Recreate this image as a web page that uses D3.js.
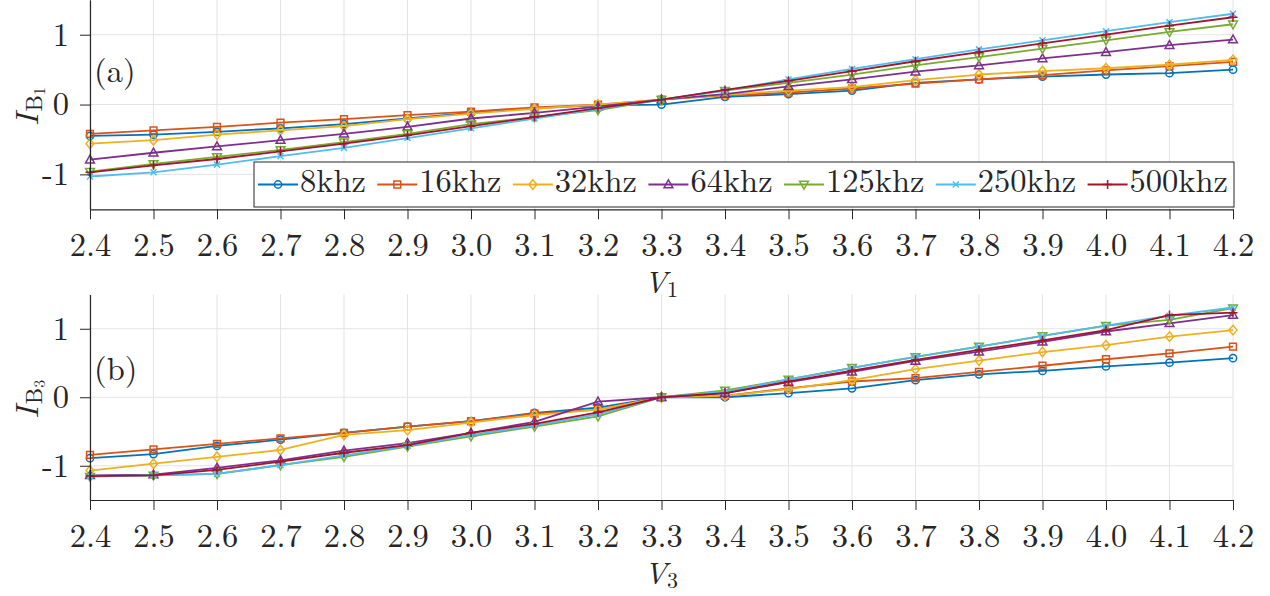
<!DOCTYPE html>
<html>
<head>
<meta charset="utf-8">
<script src="https://cdn.jsdelivr.net/npm/d3@7"></script>
<style>
  body { margin: 0; background: #fff; }
  svg { display: block; }
</style>
</head>
<body>
<div id="chart"></div>
<script>
// x values (V) shared by both panels
const vValues = [2.4, 2.5, 2.6, 2.7, 2.8, 2.9, 3.0, 3.1, 3.2, 3.3, 3.4, 3.5, 3.6, 3.7, 3.8, 3.9, 4.0, 4.1, 4.2];
const yTickValues = [-1, 0, 1];
const seriesNames = ["8khz", "16khz", "32khz", "64khz", "125khz", "250khz", "500khz"];
const seriesColors = ["#0072BD", "#D95319", "#EDB120", "#7E2F8E", "#77AC30", "#4DBEEE", "#A2142F"];
const seriesMarkers = ["o", "s", "d", "^", "v", "x", "+"];

// panel (a): I_B1 vs V1
const a8k   = [-0.45, -0.43, -0.39, -0.34, -0.28, -0.20, -0.12, -0.05, -0.01, 0.00, 0.11, 0.15, 0.20, 0.31, 0.36, 0.40, 0.43, 0.45, 0.50];
const a16k  = [-0.42, -0.37, -0.32, -0.26, -0.21, -0.15, -0.10, -0.04, 0.00, 0.07, 0.13, 0.17, 0.23, 0.30, 0.36, 0.42, 0.49, 0.55, 0.61];
const a32k  = [-0.56, -0.51, -0.43, -0.37, -0.31, -0.21, -0.13, -0.06, 0.00, 0.07, 0.14, 0.20, 0.25, 0.35, 0.43, 0.48, 0.52, 0.57, 0.64];
const a64k  = [-0.79, -0.69, -0.60, -0.51, -0.42, -0.32, -0.20, -0.12, -0.03, 0.07, 0.15, 0.26, 0.36, 0.47, 0.56, 0.66, 0.75, 0.85, 0.93];
const a125k = [-0.96, -0.85, -0.75, -0.65, -0.54, -0.42, -0.28, -0.18, -0.08, 0.07, 0.20, 0.31, 0.43, 0.56, 0.68, 0.80, 0.92, 1.04, 1.15];
const a250k = [-1.03, -0.97, -0.86, -0.74, -0.62, -0.48, -0.34, -0.20, -0.06, 0.07, 0.20, 0.36, 0.51, 0.65, 0.79, 0.92, 1.05, 1.18, 1.30];
const a500k = [-0.97, -0.87, -0.78, -0.67, -0.56, -0.44, -0.31, -0.18, -0.05, 0.07, 0.21, 0.34, 0.48, 0.62, 0.75, 0.875, 1.00, 1.13, 1.25];

// panel (b): I_B3 vs V3
const b8k   = [-0.89, -0.83, -0.71, -0.62, -0.52, -0.43, -0.35, -0.23, -0.15, 0.00, 0.00, 0.06, 0.13, 0.25, 0.335, 0.385, 0.45, 0.505, 0.57];
const b16k  = [-0.84, -0.76, -0.68, -0.60, -0.52, -0.43, -0.35, -0.24, -0.18, 0.00, 0.02, 0.13, 0.23, 0.28, 0.37, 0.46, 0.555, 0.64, 0.74];
const b32k  = [-1.07, -0.97, -0.87, -0.77, -0.55, -0.48, -0.37, -0.26, -0.18, 0.00, 0.02, 0.12, 0.25, 0.41, 0.535, 0.66, 0.76, 0.885, 0.98];
const b64k  = [-1.14, -1.13, -1.03, -0.92, -0.78, -0.67, -0.52, -0.36, -0.065, 0.00, 0.06, 0.22, 0.37, 0.53, 0.665, 0.81, 0.96, 1.08, 1.20];
const b125k = [-1.16, -1.14, -1.12, -0.99, -0.87, -0.72, -0.57, -0.43, -0.28, 0.00, 0.10, 0.26, 0.43, 0.59, 0.74, 0.895, 1.045, 1.13, 1.30];
const b250k = [-1.15, -1.14, -1.12, -0.99, -0.85, -0.71, -0.55, -0.41, -0.25, 0.00, 0.08, 0.26, 0.43, 0.59, 0.74, 0.895, 1.045, 1.19, 1.31];
const b500k = [-1.15, -1.14, -1.06, -0.94, -0.81, -0.70, -0.52, -0.39, -0.22, 0.00, 0.06, 0.23, 0.39, 0.545, 0.69, 0.83, 0.98, 1.20, 1.235];

const width = 1270, height = 596;
const fontSize = 32.5;
const fontName = "'Latin Modern Roman'";
const axisColor = "#262626";
const gridColor = "#e3e3e3";

const svg = d3.select("#chart").append("svg")
    .attr("width", width)
    .attr("height", height)
    .style("font-family", fontName);

const xScale = d3.scaleLinear().domain([2.4, 4.2]).range([90, 1233]);

// marker path centred on 0,0
function markerPath(type) {
    switch (type) {
        case "o": return d3.symbol(d3.symbolCircle, 42)();
        case "s": return "M-3.4,-3.4H3.4V3.4H-3.4Z";
        case "d": return "M0,-4.8L4,0L0,4.8L-4,0Z";
        case "^": return "M0,-4.6L4.4,3.2H-4.4Z";
        case "v": return "M0,4.6L4.4,-3.2H-4.4Z";
        case "x": return "M-3,-3L3,3M-3,3L3,-3";
        case "+": return "M-4.5,0H4.5M0,-4.5V4.5";
    }
}

function addText(sel) {
    return sel.append("text").style("font-family", fontName).attr("fill", axisColor);
}

function drawPanel(opts) {
    const yScale = d3.scaleLinear().domain([-1.5, 1.5]).range([opts.bottom, opts.top]);
    const g = svg.append("g");

    // grid
    g.append("g").selectAll("line")
        .data(vValues)
        .enter().append("line")
        .attr("x1", d => xScale(d)).attr("x2", d => xScale(d))
        .attr("y1", opts.bottom).attr("y2", Math.max(opts.top, 0))
        .attr("stroke", gridColor).attr("stroke-width", 1);
    g.append("g").selectAll("line")
        .data(yTickValues)
        .enter().append("line")
        .attr("x1", xScale.range()[0]).attr("x2", xScale.range()[1])
        .attr("y1", d => yScale(d)).attr("y2", d => yScale(d))
        .attr("stroke", gridColor).attr("stroke-width", 1);

    // series
    const line = d3.line()
        .x((d, i) => xScale(vValues[i]))
        .y(d => yScale(d));

    opts.series.forEach((vals, k) => {
        g.append("path")
            .datum(vals)
            .attr("fill", "none")
            .attr("stroke", seriesColors[k])
            .attr("stroke-width", 1.8)
            .attr("stroke-linejoin", "round")
            .attr("d", line);
        g.append("g").selectAll("path")
            .data(vals)
            .enter().append("path")
            .attr("transform", (d, i) => `translate(${xScale(vValues[i])},${yScale(d)})`)
            .attr("d", markerPath(seriesMarkers[k]))
            .attr("fill", "none")
            .attr("stroke", seriesColors[k])
            .attr("stroke-width", 1.5);
    });

    // axes
    const xAxis = g.append("g")
        .attr("transform", `translate(0,${opts.bottom})`)
        .call(d3.axisBottom(xScale)
            .tickValues(vValues)
            .tickFormat(d3.format(".1f"))
            .tickSize(10)
            .tickSizeOuter(0)
            .tickPadding(14));
    const yAxis = g.append("g")
        .attr("transform", `translate(${xScale.range()[0]},0)`)
        .call(d3.axisLeft(yScale)
            .tickValues(yTickValues)
            .tickFormat(d => String(d))
            .tickSize(10)
            .tickSizeOuter(0)
            .tickPadding(11));
    [xAxis, yAxis].forEach(ax => {
        ax.attr("font-family", null).attr("font-size", null);
        ax.select(".domain").attr("stroke", axisColor).attr("stroke-width", 1.2);
        ax.selectAll(".tick line").attr("stroke", axisColor).attr("stroke-width", 1);
        ax.selectAll(".tick text")
            .style("font-family", fontName)
            .style("font-size", fontSize + "px")
            .attr("fill", axisColor);
    });

    // x label  V_n
    const xl = addText(g)
        .attr("x", 661)
        .attr("y", opts.bottom + 84)
        .attr("text-anchor", "middle")
        .style("font-size", "31px");
    xl.append("tspan").attr("font-style", "italic").text("V");
    xl.append("tspan").style("font-size", "22px").attr("dy", 4).text(opts.sub);

    // y label  I_{B_n}
    const yMid = yScale(0);
    const yl = addText(g)
        .attr("transform", `translate(38,${yMid + 2}) rotate(-90)`)
        .attr("text-anchor", "middle")
        .style("font-size", fontSize + "px");
    yl.append("tspan").attr("font-style", "italic").text("I");
    yl.append("tspan").style("font-size", "23px").attr("dy", 4).attr("dx", 2).text("B");
    yl.append("tspan").style("font-size", "16px").attr("dy", 3).text(opts.sub);

    // panel tag
    addText(g)
        .attr("x", 94)
        .attr("y", yMid - opts.tagOffset)
        .style("font-size", fontSize + "px")
        .text(opts.tag);

    return g;
}

drawPanel({
    top: -0.2, bottom: 209.3, sub: "1", tag: "(a)", tagOffset: 23,
    series: [a8k, a16k, a32k, a64k, a125k, a250k, a500k]
});
drawPanel({
    top: 294.5, bottom: 500, sub: "3", tag: "(b)", tagOffset: 17,
    series: [b8k, b16k, b32k, b64k, b125k, b250k, b500k]
});

// legend for panel (a)
const legX0 = 254, legX1 = 1234, legY0 = 162, legY1 = 207;
const legend = svg.append("g");
legend.append("rect")
    .attr("x", legX0).attr("y", legY0)
    .attr("width", legX1 - legX0).attr("height", legY1 - legY0)
    .attr("fill", "#fff")
    .attr("stroke", axisColor)
    .attr("stroke-width", 1);

const items = legend.selectAll("g.item")
    .data(seriesNames)
    .enter().append("g");
items.append("text")
    .style("font-family", fontName)
    .style("font-size", fontSize + "px")
    .attr("fill", axisColor)
    .attr("y", 192)
    .text(d => d);
const textW = [];
items.select("text").each(function () { textW.push(this.getComputedTextLength()); });
const lineLen = 40, textGap = 2, padL = 4, padR = 6;
const used = d3.sum(textW) + seriesNames.length * (lineLen + textGap);
const gap = (legX1 - legX0 - padL - padR - used) / (seriesNames.length - 1);
let cx = legX0 + padL;
items.each(function (d, k) {
    const it = d3.select(this);
    const ly = 184.5;
    it.insert("line", "text")
        .attr("x1", cx).attr("x2", cx + lineLen)
        .attr("y1", ly).attr("y2", ly)
        .attr("stroke", seriesColors[k]).attr("stroke-width", 1.8);
    it.insert("path", "text")
        .attr("transform", `translate(${cx + lineLen / 2},${ly})`)
        .attr("d", markerPath(seriesMarkers[k]))
        .attr("fill", "none")
        .attr("stroke", seriesColors[k])
        .attr("stroke-width", 1.5);
    it.select("text").attr("x", cx + lineLen + textGap);
    cx += lineLen + textGap + textW[k] + gap;
});
</script>
</body>
</html>
